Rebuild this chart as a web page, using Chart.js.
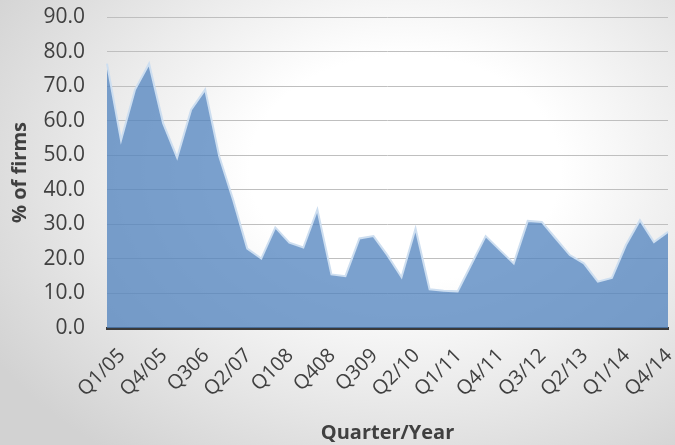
<!DOCTYPE html>
<html>
<head>
<meta charset="utf-8">
<script src="https://cdn.jsdelivr.net/npm/chart.js@4"></script>
<style>
  html, body { margin: 0; padding: 0; }
  body {
    width: 675px; height: 445px; overflow: hidden;
    background: radial-gradient(ellipse 72% 80% at 60% 38%, #ffffff 0%, #ffffff 32%, #d2d2d2 100%);
  }
  #wrap { position: relative; width: 675px; height: 445px; }
</style>
</head>
<body>
<div id="wrap"><canvas id="c" width="675" height="445"></canvas></div>
<script>
// Categories (quarters); every 3rd one is labelled on the axis
const quarters = [
  "Q1/05","Q2/05","Q3/05","Q4/05",
  "Q106","Q206","Q306","Q406",
  "Q1/07","Q2/07","Q3/07","Q4/07",
  "Q108","Q208","Q308","Q408",
  "Q109","Q209","Q309","Q409",
  "Q1/10","Q2/10","Q3/10","Q4/10",
  "Q1/11","Q2/11","Q3/11","Q4/11",
  "Q1/12","Q2/12","Q3/12","Q4/12",
  "Q1/13","Q2/13","Q3/13","Q4/13",
  "Q1/14","Q2/14","Q3/14","Q4/14",
  "Q1/15"
];
// % of firms
const pctFirms = [
  76.5, 54.3, 69.0, 76.5,
  59.3, 49.3, 63.2, 69.0,
  49.7, 37.0, 23.0, 20.1,
  29.1, 24.7, 23.3, 34.3,
  15.5, 15.0, 25.9, 26.6,
  21.0, 14.7, 28.8, 11.2,
  10.8, 10.6, 18.6, 26.6,
  22.6, 18.7, 31.0, 30.7,
  25.9, 21.1, 18.7, 13.4,
  14.5, 24.0, 31.2, 24.9,
  27.8
];
const labelEvery = 3;
const lastLabelIndex = 39;
const yTicks = [0, 10, 20, 30, 40, 50, 60, 70, 80, 90];

const textColor = '#404040';
const fontFamily = "'Open Sans', 'Liberation Sans', sans-serif";

new Chart(document.getElementById('c'), {
  type: 'line',
  data: {
    labels: quarters,
    datasets: [{
      data: pctFirms,
      fill: 'origin',
      backgroundColor: 'rgba(79,129,189,0.75)',
      borderColor: 'rgba(205,222,240,1)',
      borderWidth: 2,
      pointRadius: 0,
      tension: 0
    }]
  },
  options: {
    responsive: false,
    animation: false,
    devicePixelRatio: 1,
    layout: { padding: { top: 17, right: 7, left: 0, bottom: 0 } },
    plugins: { legend: { display: false }, tooltip: { enabled: false } },
    scales: {
      x: {
        type: 'category',
        offset: false,
        grid: { display: false, drawTicks: false },
        border: { display: true, color: '#3a3a3a', width: 3 },
        ticks: {
          autoSkip: false,
          minRotation: 45,
          maxRotation: 45,
          padding: 16,
          labelOffset: 15,
          color: textColor,
          font: { family: fontFamily, size: 20 },
          callback: function(v, i) {
            return (i % labelEvery === 0 && i <= lastLabelIndex) ? quarters[i] : '';
          }
        },
        title: {
          display: true,
          text: 'Quarter/Year',
          color: textColor,
          font: { family: fontFamily, size: 20, weight: 'bold' },
          padding: { top: 0, bottom: 0 }
        },
        afterFit: function(scale) {
          scale.height = 117;
          scale.paddingLeft = 0; scale.paddingRight = 0;
        }
      },
      y: {
        min: 0,
        max: 90,
        afterBuildTicks: function(scale) { scale.ticks = yTicks.map(v => ({ value: v })); },
        grid: { color: '#bfbfbf', lineWidth: 1, drawTicks: false },
        border: { display: false },
        ticks: {
          padding: 22,
          color: textColor,
          font: { family: fontFamily, size: 21 },
          callback: function(v) { return Number(v).toFixed(1); }
        },
        title: {
          display: true,
          text: '% of firms',
          color: textColor,
          font: { family: fontFamily, size: 20, weight: 'bold' },
          padding: { top: 8, bottom: 0 }
        },
        afterFit: function(scale) {
          scale.width = 107;
          scale.paddingTop = 0; scale.paddingBottom = 0;
        }
      }
    }
  }
});
</script>
</body>
</html>
